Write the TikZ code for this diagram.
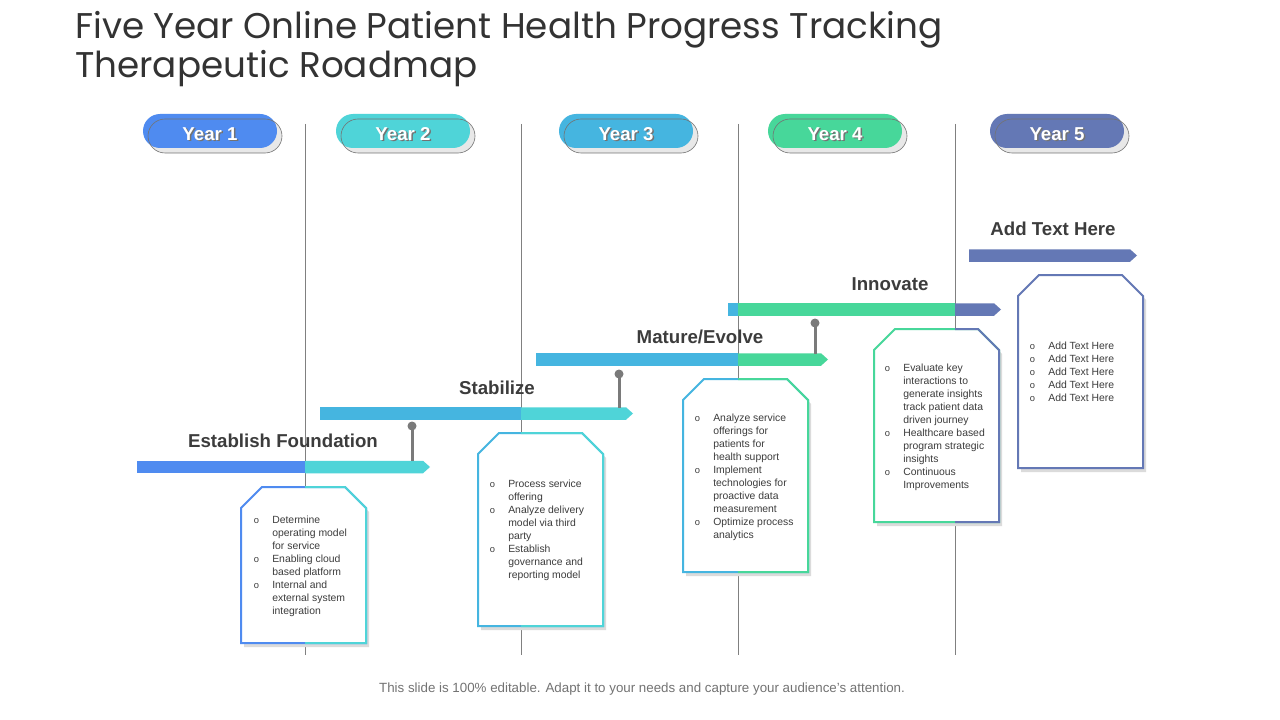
\documentclass[tikz,border=0pt]{standalone}
\usepackage{fontspec}
\setmainfont{Liberation Sans}
\newfontfamily\titlefont{Poppins}
\definecolor{cA}{HTML}{4F8BF0}
\definecolor{cB}{HTML}{4FD4D8}
\definecolor{cC}{HTML}{45B5E0}
\definecolor{cD}{HTML}{47D79A}
\definecolor{cE}{HTML}{6478B5}
\definecolor{txt}{HTML}{3C3C3C}
\definecolor{pinc}{HTML}{7A7A7A}
\newcommand\bu{{\fontsize{7}{7}\selectfont o}}
\newcommand\rmbox[7]{%
  \fill[black!14] (#1+3,#2+25) -- (#1+24,#2+4) -- (#3-18,#2+4) -- (#3+3,#2+25) -- (#3+3,#4+4) -- (#1+3,#4+4) -- cycle;
  \filldraw[fill=white,draw=#5,line width=1.5pt] (#1,#2+21) -- (#1+21,#2) -- (#3-21,#2) -- (#3,#2+21) -- (#3,#4) -- (#1,#4) -- cycle;
  \begin{scope}
    \clip (#7,0) rectangle (1300,720);
    \draw[#6,line width=1.5pt] (#1,#2+21) -- (#1+21,#2) -- (#3-21,#2) -- (#3,#2+21) -- (#3,#4) -- (#1,#4) -- cycle;
  \end{scope}}
\newcommand\yearpill[5]{%
  \fill[black!9,rounded corners=12.75pt] (#1+5,119) rectangle (#2+5,153);
  \fill[#3,rounded corners=12.75pt] (#1,114) rectangle (#2,148);
  \draw[black!55,line width=0.45pt,rounded corners=12.75pt] (#1+5,119) rectangle (#2+5,153);
  \node[yeartxt,text=black!55] (#4s) at ({(#1+#2)/2+1.5},142) {#5};
  \node[yeartxt] (#4) at ({(#1+#2)/2},140.5) {#5};}
\begin{document}
\begin{tikzpicture}[x=0.75pt,y=-0.75pt,
  vline/.style={draw=black!50,line width=0.75pt},
  yeartxt/.style={anchor=base,inner sep=0,text=white,font=\bfseries\fontsize{14}{16}\selectfont},
  lbl/.style={anchor=base,inner sep=0,text=txt,font=\bfseries\fontsize{14}{16}\selectfont},
  pinhead/.style={circle,fill=pinc,inner sep=0,minimum size=6.75pt},
  pinstem/.style={draw=pinc,line width=2.25pt},
  boxtxt/.style={anchor=base west,inner sep=0,text=txt,font=\fontsize{7.8}{9.75}\selectfont}]
\useasboundingbox (0,0) rectangle (1280,720);
\fill[white] (0,0) rectangle (1280,720);

% title
\node[anchor=base west,inner sep=0,text=black!80,font=\titlefont\fontsize{26.8}{30}\selectfont] (t1) at (75,39) {Five Year Online Patient Health Progress Tracking};
\node[anchor=base west,inner sep=0,text=black!80,font=\titlefont\fontsize{26.8}{30}\selectfont] (t2) at (75,78) {Therapeutic Roadmap};

% vertical lines
\foreach \x in {305,521,738,955} \draw[vline] (\x,124) -- (\x,655);

% year pills
\yearpill{143}{277}{cA}{y1}{Year 1}
\yearpill{336}{470}{cB}{y2}{Year 2}
\yearpill{559}{693}{cC}{y3}{Year 3}
\yearpill{768}{902}{cD}{y4}{Year 4}
\yearpill{990}{1124}{cE}{y5}{Year 5}

% bars
\fill[cA] (137,460.75) rectangle (305,473.25);
\fill[cB] (305,460.75) -- (423,460.75) -- (430,467) -- (423,473.25) -- (305,473.25) -- cycle;
\fill[cC] (320,407.25) rectangle (521,419.75);
\fill[cB] (521,407.25) -- (626,407.25) -- (633,413.5) -- (626,419.75) -- (521,419.75) -- cycle;
\fill[cC] (536,353.25) rectangle (738,365.75);
\fill[cD] (738,353.25) -- (821,353.25) -- (828,359.5) -- (821,365.75) -- (738,365.75) -- cycle;
\fill[cC] (728,303.25) rectangle (738,315.75);
\fill[cD] (738,303.25) rectangle (955,315.75);
\fill[cE] (955,303.25) -- (994,303.25) -- (1001,309.5) -- (994,315.75) -- (955,315.75) -- cycle;
\fill[cE] (969,249.25) -- (1130,249.25) -- (1137,255.5) -- (1130,261.75) -- (969,261.75) -- cycle;

% phase labels
\node[lbl] (l1) at (283,447) {Establish Foundation};
\node[lbl] (l2) at (497,394) {Stabilize};
\node[lbl] (l3) at (700,343) {Mature/Evolve};
\node[lbl] (l4) at (890,290) {Innovate};
\node[lbl] (l5) at (1053,236) {Add Text Here};

% pins
\node[pinhead] (p1) at (412,426) {};
\coordinate (p1b) at (412,461);
\draw[pinstem] (p1.center) -- (p1b);
\node[pinhead] (p2) at (619,374) {};
\coordinate (p2b) at (619,407.5);
\draw[pinstem] (p2.center) -- (p2b);
\node[pinhead] (p3) at (815,323) {};
\coordinate (p3b) at (815,353.5);
\draw[pinstem] (p3.center) -- (p3b);

% boxes
\rmbox{241}{487}{366}{643}{cA}{cB}{305}
\rmbox{478}{433}{603}{626}{cC}{cB}{521}
\rmbox{683}{379}{808}{572}{cC}{cD}{738}
\rmbox{874}{329}{999}{522}{cD}{cE}{955}
\rmbox{1018}{275}{1143}{468}{cE}{cE}{1300}

\node[boxtxt] (b1) at (253.5,523.5) {\begin{tabular}[t]{@{}p{13.9pt}@{}l@{}}
\bu & Determine\\ & operating model\\ & for service\\
\bu & Enabling cloud\\ & based platform\\
\bu & Internal and\\ & external system\\ & integration\end{tabular}};
\node[boxtxt] (b2) at (489.5,487.5) {\begin{tabular}[t]{@{}p{13.9pt}@{}l@{}}
\bu & Process service\\ & offering\\
\bu & Analyze delivery\\ & model via third\\ & party\\
\bu & Establish\\ & governance and\\ & reporting model\end{tabular}};
\node[boxtxt] (b3) at (694.5,421.5) {\begin{tabular}[t]{@{}p{13.9pt}@{}l@{}}
\bu & Analyze service\\ & offerings for\\ & patients for\\ & health support\\
\bu & Implement\\ & technologies for\\ & proactive data\\ & measurement\\
\bu & Optimize process\\ & analytics\end{tabular}};
\node[boxtxt] (b4) at (884.5,371.5) {\begin{tabular}[t]{@{}p{13.9pt}@{}l@{}}
\bu & Evaluate key\\ & interactions to\\ & generate insights\\ & track patient data\\ & driven journey\\
\bu & Healthcare based\\ & program strategic\\ & insights\\
\bu & Continuous\\ & Improvements\end{tabular}};
\node[boxtxt] (b5) at (1029.5,349.5) {\begin{tabular}[t]{@{}p{13.9pt}@{}l@{}}
\bu & Add Text Here\\ \bu & Add Text Here\\ \bu & Add Text Here\\ \bu & Add Text Here\\ \bu & Add Text Here\end{tabular}};

% footer
\node[anchor=base,inner sep=0,text=black!55,font=\fontsize{10}{12}\selectfont] (ft) at (642,692) {This slide is 100\% editable. Adapt it to your needs and capture your audience's attention.};
\end{tikzpicture}
\end{document}
